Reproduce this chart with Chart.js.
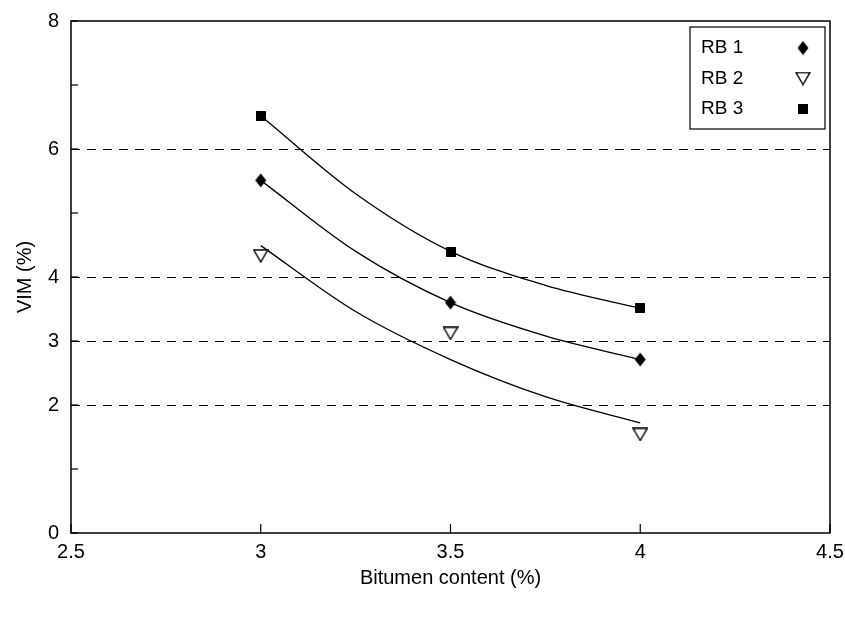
<!DOCTYPE html>
<html lang="en">
<head>
    <meta charset="UTF-8">
    <title>VIM vs Bitumen content</title>
    <script src="https://cdn.jsdelivr.net/npm/chart.js"></script>
    <style>
        body { margin: 0; background: #fff; }
        #chart { display: block; }
    </style>
</head>
<body>
    <canvas id="chart" width="845" height="618"></canvas>

    <script>
        // Measured points (bitumen content vs VIM)
        const bitumen = [3, 3.5, 4];
        const rb1 = [5.51, 3.60, 2.71];
        const rb2 = [4.33, 3.12, 1.54];
        const rb3 = [6.52, 4.39, 3.51];

        // Fitted curves
        const fitX = [3, 3.25, 3.5, 3.75, 4];
        const fitRb1 = [5.51, 4.40, 3.60, 3.08, 2.71];
        const fitRb2 = [4.49, 3.46, 2.71, 2.13, 1.72];
        const fitRb3 = [6.52, 5.30, 4.40, 3.87, 3.51];

        const seriesNames = ['RB 1', 'RB 2', 'RB 3'];

        // Axis ticks
        const xTicks = [2.5, 3, 3.5, 4, 4.5];
        const yTicks = [0, 1, 2, 3, 4, 5, 6, 7, 8];
        const yLabels = [0, 2, 3, 4, 6, 8];
        const dashedAt = [2, 3, 4, 6];

        const FONT = 'Arial, "Liberation Sans", sans-serif';

        // little canvases used as point styles
        function makeMarker(kind) {
            const c = document.createElement('canvas');
            const g = c.getContext('2d');
            if (kind === 'diamond') {
                c.width = 12; c.height = 15;
                g.fillStyle = '#000';
                g.beginPath();
                g.moveTo(6, 0.5); g.lineTo(11.5, 7.5); g.lineTo(6, 14.5); g.lineTo(0.5, 7.5);
                g.closePath(); g.fill();
            } else if (kind === 'tri') {
                c.width = 16; c.height = 14;
                g.fillStyle = '#fff';
                g.strokeStyle = '#000';
                g.lineWidth = 1.4;
                g.beginPath();
                g.moveTo(1, 1); g.lineTo(15, 1); g.lineTo(8, 13);
                g.closePath(); g.fill(); g.stroke();
            } else {
                c.width = 10; c.height = 10;
                g.fillStyle = '#000';
                g.fillRect(0, 0, 10, 10);
            }
            return c;
        }
        const markers = [makeMarker('diamond'), makeMarker('tri'), makeMarker('square')];

        function pts(xs, ys) {
            return xs.map((x, i) => ({ x: x, y: ys[i] }));
        }

        function pointSet(i, ys) {
            return {
                label: seriesNames[i],
                data: pts(bitumen, ys),
                showLine: false,
                pointStyle: markers[i],
                pointRadius: 7,
                borderColor: '#000',
                backgroundColor: '#000'
            };
        }

        function fitSet(ys) {
            return {
                label: 'fit',
                data: pts(fitX, ys),
                borderColor: '#000',
                borderWidth: 1.3,
                pointRadius: 0,
                fill: false,
                cubicInterpolationMode: 'monotone'
            };
        }

        // frame, dashed reference lines, inward ticks and the legend
        const decorations = {
            id: 'decorations',
            beforeDatasetsDraw(chart) {
                const ctx = chart.ctx;
                const a = chart.chartArea;
                const xs = chart.scales.x, ys = chart.scales.y;
                ctx.save();
                ctx.strokeStyle = '#000';
                ctx.lineWidth = 1;
                ctx.setLineDash([9, 7]);
                dashedAt.forEach(v => {
                    const y = Math.round(ys.getPixelForValue(v)) + 0.5;
                    ctx.beginPath();
                    ctx.moveTo(a.left, y);
                    ctx.lineTo(a.right, y);
                    ctx.stroke();
                });
                ctx.setLineDash([]);
                ctx.lineWidth = 1.5;
                ctx.strokeRect(a.left, a.top, a.right - a.left, a.bottom - a.top);
                ctx.lineWidth = 1.2;
                xTicks.forEach(v => {
                    const x = xs.getPixelForValue(v);
                    ctx.beginPath();
                    ctx.moveTo(x, a.bottom);
                    ctx.lineTo(x, a.bottom - 9);
                    ctx.stroke();
                });
                yTicks.forEach(v => {
                    const y = ys.getPixelForValue(v);
                    ctx.beginPath();
                    ctx.moveTo(a.left, y);
                    ctx.lineTo(a.left + 7, y);
                    ctx.stroke();
                });
                ctx.restore();
            },
            afterDraw(chart) {
                const ctx = chart.ctx;
                const a = chart.chartArea;
                const w = 135, h = 102;
                const left = a.right - 5 - w;
                const top = a.top + 6;
                ctx.save();
                ctx.fillStyle = '#fff';
                ctx.fillRect(left, top, w, h);
                ctx.strokeStyle = '#000';
                ctx.lineWidth = 1.2;
                ctx.strokeRect(left, top, w, h);
                ctx.font = '19px ' + FONT;
                ctx.fillStyle = '#000';
                ctx.textBaseline = 'middle';
                seriesNames.forEach((name, i) => {
                    const cy = top + 21 + i * 30.5;
                    ctx.fillText(name, left + 11, cy);
                    const m = markers[i];
                    ctx.drawImage(m, left + w - 22 - m.width / 2, cy - m.height / 2);
                });
                ctx.restore();
            }
        };

        new Chart(document.getElementById('chart'), {
            type: 'line',
            data: {
                datasets: [
                    pointSet(0, rb1),
                    pointSet(1, rb2),
                    pointSet(2, rb3),
                    fitSet(fitRb1),
                    fitSet(fitRb2),
                    fitSet(fitRb3)
                ]
            },
            options: {
                responsive: false,
                animation: false,
                layout: { padding: { left: 0, right: 15, top: 21, bottom: 0 } },
                plugins: {
                    legend: { display: false },
                    tooltip: { enabled: false }
                },
                scales: {
                    x: {
                        type: 'linear',
                        min: 2.5,
                        max: 4.5,
                        afterBuildTicks: s => { s.ticks = xTicks.map(v => ({ value: v })); },
                        afterFit: s => { s.height = 85; s.paddingLeft = 0; s.paddingRight = 0; },
                        grid: { display: false, drawTicks: false },
                        border: { display: false },
                        ticks: {
                            color: '#000',
                            padding: 7,
                            maxRotation: 0,
                            font: { family: FONT, size: 20 },
                            callback: v => String(v)
                        },
                        title: {
                            display: true,
                            text: 'Bitumen content (%)',
                            color: '#000',
                            font: { family: FONT, size: 20 },
                            padding: { top: 0, bottom: 28 }
                        }
                    },
                    y: {
                        min: 0,
                        max: 8,
                        afterBuildTicks: s => { s.ticks = yTicks.map(v => ({ value: v })); },
                        afterFit: s => { s.width = 71; s.paddingTop = 0; s.paddingBottom = 0; },
                        grid: { display: false, drawTicks: false },
                        border: { display: false },
                        ticks: {
                            color: '#000',
                            padding: 12,
                            font: { family: FONT, size: 20 },
                            callback: v => yLabels.includes(v) ? String(v) : ''
                        },
                        title: {
                            display: true,
                            text: 'VIM (%)',
                            color: '#000',
                            font: { family: FONT, size: 20 },
                            padding: { top: 13, bottom: 0 }
                        }
                    }
                }
            },
            plugins: [decorations]
        });
    </script>
</body>
</html>
